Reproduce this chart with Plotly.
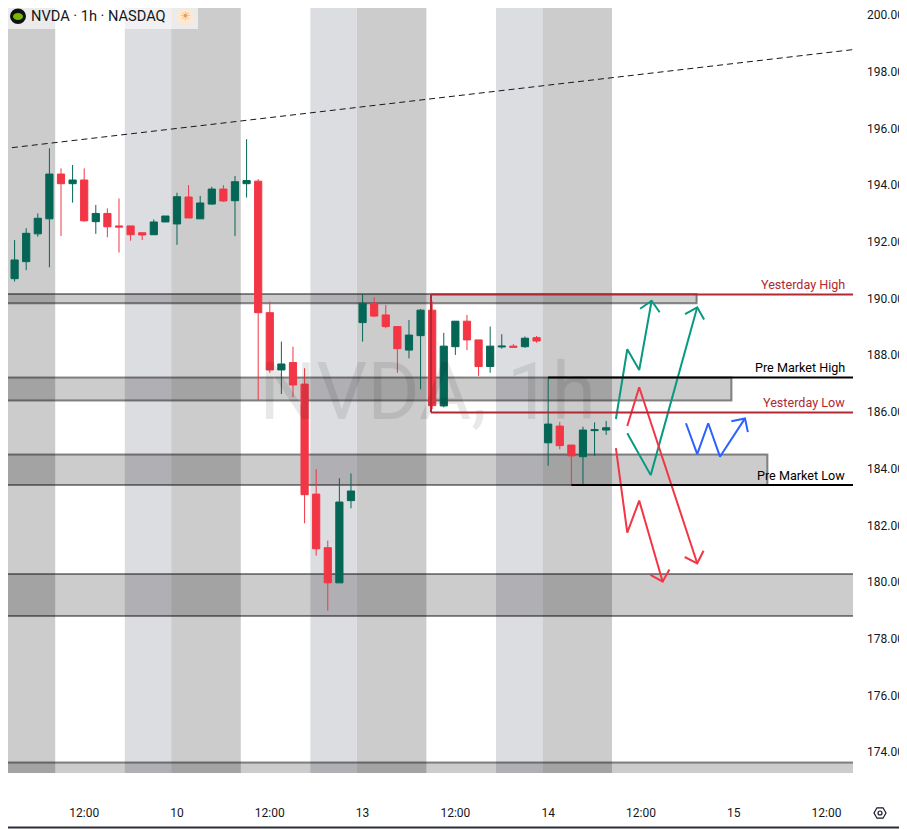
import math
import plotly.graph_objects as go

# trading days on the time axis, hourly bars 04:00-19:00 (extended hours)
days = ['9', '10', '13', '14', '15']
hours = list(range(4, 20))

# 1h OHLC, first bar = Oct 9 05:00
opens = [190.32, 190.70, 191.30, 192.28, 192.81, 194.39, 194.05, 194.18, 192.71, 193.00,
         192.56, 192.56, 192.32, 192.25, 192.70, 192.63, 193.58, 192.81, 193.33, 193.86,
         193.45, 194.05, 194.14, 189.50, 187.48, 187.74, 186.98, 183.10, 181.21, 179.97,
         182.87, 189.15, 189.83, 189.42, 189.01, 188.18, 188.69, 189.59, 186.21, 188.30,
         189.20, 188.54, 187.60, 188.29, 188.32, 188.30, 188.62, 184.91, 185.50, 184.83,
         184.42, 185.34, 185.36]
highs = [190.95, 192.06, 192.48, 193.00, 195.30, 194.59, 194.71, 194.59, 193.30, 193.18,
         193.53, 192.56, 192.32, 192.79, 192.91, 193.73, 194.00, 193.62, 193.94, 194.00,
         194.32, 195.62, 194.21, 189.89, 188.48, 188.30, 187.54, 183.98, 181.46, 183.66,
         183.83, 190.16, 190.04, 189.77, 189.01, 189.24, 189.63, 189.90, 188.79, 189.20,
         189.42, 188.54, 189.01, 188.74, 188.39, 188.66, 188.68, 187.22, 185.65, 184.83,
         185.48, 185.63, 185.68]
lows = [190.18, 190.60, 191.00, 192.18, 191.10, 192.20, 193.38, 192.71, 192.28, 192.16,
        191.62, 192.04, 192.06, 192.25, 192.70, 191.89, 192.84, 192.81, 193.31, 193.41,
        192.20, 193.56, 186.42, 187.38, 186.63, 186.52, 182.07, 180.93, 178.99, 179.97,
        182.60, 188.48, 189.34, 188.95, 187.38, 187.89, 186.80, 186.10, 186.16, 188.01,
        188.18, 187.27, 187.38, 188.23, 188.28, 188.26, 188.44, 184.10, 184.68, 183.42,
        183.42, 184.45, 185.19]
closes = [190.77, 191.36, 192.30, 192.83, 194.39, 194.05, 194.18, 192.74, 193.00, 192.53,
          192.52, 192.25, 192.24, 192.70, 192.91, 193.59, 192.84, 193.37, 193.86, 193.44,
          194.12, 194.16, 189.50, 187.48, 187.69, 186.95, 183.08, 181.17, 179.97, 182.82,
          183.21, 189.83, 189.38, 189.01, 188.23, 188.71, 189.59, 186.22, 188.32, 189.20,
          188.54, 187.60, 188.32, 188.32, 188.28, 188.60, 188.50, 185.57, 184.81, 184.45,
          185.36, 185.37, 185.44]

price_ticks = list(range(174, 201, 2))

# grey zones drawn on the chart (None = runs to the right edge)
zone_lows = [189.83, 186.40, 183.42, 178.80, 172.00]
zone_highs = [190.16, 187.21, 184.50, 180.28, 173.63]
zone_ends = [59.8, 62.8, 65.9, None, None]

# key levels
level_names = ['Yesterday High', 'Pre Market High', 'Yesterday Low', 'Pre Market Low']
level_prices = [190.14, 187.21, 185.98, 183.42]
level_starts = [36.9, 47.0, 36.9, 49.0]
level_colors = ['#b22833', '#000000', '#b22833', '#000000']

# dashed trend line (bar, price)
trend_bars = [-0.09, 73.3]
trend_prices = [195.28, 198.78]

# scenario arrows (bar, price)
green_path_1 = [(52.84, 185.75), (53.82, 188.21), (54.85, 187.48), (55.92, 189.92)]
green_path_2 = [(53.82, 185.25), (55.84, 183.77), (59.85, 189.69)]
red_path_1 = [(53.82, 185.50), (54.85, 186.87), (59.85, 180.66)]
red_path_2 = [(52.84, 184.72), (53.82, 181.74), (54.85, 182.87), (56.87, 180.01)]
blue_path = [(58.88, 185.60), (59.85, 184.51), (60.80, 185.60), (61.81, 184.42), (63.97, 185.77)]

GREEN = '#056656'
RED = '#f23645'
TEXT = '#131722'
FONT = 'Roboto'

# the page puts the figure 8px in from the top left corner
PAGE = 8
W, H = 907 - PAGE, 829 - PAGE
ML, MR, MT, MB = 0, 54, 0, 56
PW, PH = W - ML - MR, H - MT - MB
x_range = [0.431, 73.28]
y_range = [173.263, 200.247]
px_per_bar = PW / (x_range[1] - x_range[0])
px_per_usd = PH / (y_range[1] - y_range[0])


def paper_x(px):
    # screen px -> paper
    return (px - PAGE - ML) / PW


def paper_y(py):
    return (H - MB - (py - PAGE)) / PH


# time axis
timeline = [(d, h) for d in days for h in hours][1:]
tickvals, ticktext = [], []
for i, (d, h) in enumerate(timeline):
    if h == 4:
        tickvals.append(i)
        ticktext.append(d)
    elif h == 12:
        tickvals.append(i)
        ticktext.append('12:00')

bars = list(range(len(opens)))


def session(h):
    if h < 10:
        return 'pre'
    if h >= 16:
        return 'post'
    return 'reg'


shapes = []

# session backgrounds
runs = []
for i in bars:
    s = session(timeline[i][1])
    if runs and runs[-1][0] == s:
        runs[-1][2] = i
    else:
        runs.append([s, i, i])
for s, a, b in runs:
    if s == 'reg':
        continue
    shapes.append(dict(type='rect', xref='x', yref='paper', x0=a - 1.5 if a == 0 else a - 0.5,
                       x1=b + 0.5, y0=0, y1=1,
                       fillcolor='#cccccc' if s == 'pre' else '#dcdde1', line_width=0, layer='below'))

# zones
for lo, hi, end in zip(zone_lows, zone_highs, zone_ends):
    shapes.append(dict(type='rect', xref='x', yref='y', x0=-5, x1=end if end is not None else 90,
                       y0=lo, y1=hi, fillcolor='rgba(0,0,0,0.2)',
                       line=dict(color='rgba(0,0,0,0.45)', width=2), layer='below'))

# levels
for name, p, x0, c in zip(level_names, level_prices, level_starts, level_colors):
    shapes.append(dict(type='line', xref='x', yref='y', x0=x0, x1=90, y0=p, y1=p,
                       line=dict(color=c, width=2)))
shapes.append(dict(type='line', xref='x', yref='y', x0=level_starts[0], x1=level_starts[0],
                   y0=level_prices[2], y1=level_prices[0], line=dict(color=level_colors[0], width=2)))

# trend line
shapes.append(dict(type='line', xref='x', yref='y', x0=trend_bars[0], x1=trend_bars[1],
                   y0=trend_prices[0], y1=trend_prices[1],
                   line=dict(color=TEXT, width=1, dash='6px,4px')))

# legend box + logo + icons
shapes.append(dict(type='rect', xref='paper', yref='paper', x0=paper_x(8), x1=paper_x(198),
                   y0=paper_y(29), y1=paper_y(8), fillcolor='rgba(255,255,255,0.6)', line_width=0))
shapes.append(dict(type='circle', xref='paper', yref='paper', x0=paper_x(10), x1=paper_x(26),
                   y0=paper_y(24), y1=paper_y(8.5), fillcolor='#111111', line_width=0))
shapes.append(dict(type='circle', xref='paper', yref='paper', x0=paper_x(13), x1=paper_x(23),
                   y0=paper_y(20), y1=paper_y(13), fillcolor='#76b900', line_width=0))
shapes.append(dict(type='circle', xref='paper', yref='paper', x0=paper_x(176), x1=paper_x(194),
                   y0=paper_y(25), y1=paper_y(8.5), fillcolor='#fde8d2', line_width=0))
hexagon = []
for j in range(6):
    a = math.radians(60 * j)
    hexagon.append((880 + 6 * math.cos(a), 813 + 6 * math.sin(a)))
shapes.append(dict(type='path', xref='paper', yref='paper',
                   path='M' + ' L'.join(f'{paper_x(x)},{paper_y(y)}' for x, y in hexagon) + ' Z',
                   line=dict(color=TEXT, width=1.2)))
shapes.append(dict(type='circle', xref='paper', yref='paper', x0=paper_x(878), x1=paper_x(882),
                   y0=paper_y(815), y1=paper_y(811), line=dict(color=TEXT, width=1.2)))
# outer frame (right and bottom edges of the chart window)
shapes.append(dict(type='line', xref='paper', yref='paper', x0=paper_x(905.5), x1=paper_x(905.5),
                   y0=paper_y(828), y1=paper_y(8), line=dict(color='#2a2e39', width=2)))
shapes.append(dict(type='line', xref='paper', yref='paper', x0=paper_x(8), x1=paper_x(906),
                   y0=paper_y(827.5), y1=paper_y(827.5), line=dict(color='#2a2e39', width=2)))


def arrow_xy(path, length=14, spread=45):
    xs = [p[0] for p in path]
    ys = [p[1] for p in path]
    (xa, ya), (xb, yb) = path[-2], path[-1]
    ang = math.atan2((ya - yb) * px_per_usd, (xa - xb) * px_per_bar)
    head = []
    for s in (-1, 1):
        a = ang + s * math.radians(spread)
        head.append((xb + length * math.cos(a) / px_per_bar, yb + length * math.sin(a) / px_per_usd))
    xs += [None, head[0][0], xb, head[1][0]]
    ys += [None, head[0][1], yb, head[1][1]]
    return xs, ys


fig = go.Figure()

# watermark, under the candles
fig.add_trace(go.Scatter(x=[36.6], y=[186.45],
                         mode='text', text=['NVDA, 1h'],
                         textfont=dict(size=80, color='rgba(0,0,0,0.09)', family=FONT),
                         hoverinfo='skip'))

fig.add_trace(go.Candlestick(x=bars, open=opens, high=highs, low=lows, close=closes,
                             increasing=dict(line=dict(color=GREEN, width=1), fillcolor=GREEN),
                             decreasing=dict(line=dict(color=RED, width=1), fillcolor=RED),
                             whiskerwidth=0))

for path, color in [(green_path_1, '#089981'), (green_path_2, '#089981'),
                    (red_path_1, RED), (red_path_2, RED), (blue_path, '#2962ff')]:
    ax, ay = arrow_xy(path)
    fig.add_trace(go.Scatter(x=ax, y=ay, mode='lines', line=dict(color=color, width=2),
                             hoverinfo='skip'))

annotations = []
for name, p, c in zip(level_names, level_prices, level_colors):
    annotations.append(dict(xref='paper', yref='y', x=paper_x(847), y=p, yshift=10,
                            text=name, showarrow=False, xanchor='right', yanchor='middle',
                            font=dict(size=12.6, color=c, family=FONT)))
annotations.append(dict(xref='paper', yref='paper', x=paper_x(29), y=paper_y(16),
                        text='NVDA · 1h · NASDAQ', showarrow=False, xanchor='left', yanchor='middle',
                        font=dict(size=14.6, color=TEXT, family=FONT)))
annotations.append(dict(xref='paper', yref='paper', x=paper_x(185), y=paper_y(16.5),
                        text='☀', showarrow=False, xanchor='center', yanchor='middle',
                        font=dict(size=12, color='#f59b3a', family='DejaVu Sans')))

fig.update_layout(
    width=W, height=H,
    margin=dict(l=ML, r=MR, t=MT, b=MB),
    paper_bgcolor='white', plot_bgcolor='white',
    showlegend=False,
    boxgap=0.38, boxgroupgap=0,
    font=dict(family=FONT, color=TEXT),
    shapes=shapes,
    annotations=annotations,
    xaxis=dict(range=x_range, tickvals=tickvals, ticktext=ticktext, showgrid=False,
               zeroline=False, showline=False, ticks='', ticklabelstandoff=31,
               tickfont=dict(size=12, color=TEXT), rangeslider=dict(visible=False)),
    yaxis=dict(side='right', range=y_range, tickvals=price_ticks, tickformat='.2f',
               showgrid=False, zeroline=False, showline=False, ticks='', ticklabelstandoff=13,
               tickfont=dict(size=12, color=TEXT)),
)

fig.write_html("out.html")
